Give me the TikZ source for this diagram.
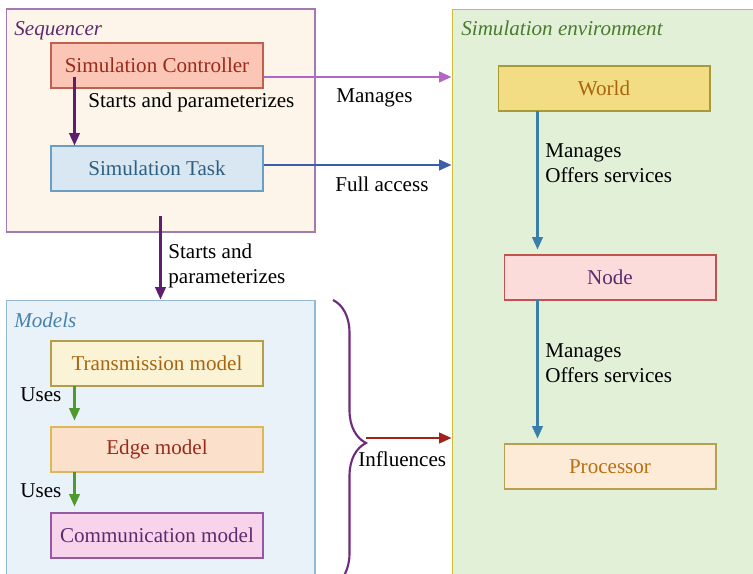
\documentclass[tikz,border=0pt]{standalone}
\usepackage{fontspec}
\setmainfont{Liberation Serif}
\usetikzlibrary{arrows.meta, calc, decorations.pathreplacing}

\definecolor{seqfill}{HTML}{FDF4EA}
\definecolor{seqdraw}{HTML}{A27AB0}
\definecolor{seqtext}{HTML}{5E2A6E}
\definecolor{ctrlfill}{HTML}{FCC6B6}
\definecolor{ctrldraw}{HTML}{C0614F}
\definecolor{ctrltext}{HTML}{9A2A1C}
\definecolor{taskfill}{HTML}{D8E7F1}
\definecolor{taskdraw}{HTML}{6A9EC5}
\definecolor{tasktext}{HTML}{2F5F80}
\definecolor{modfill}{HTML}{E9F1F9}
\definecolor{moddraw}{HTML}{94B7D3}
\definecolor{modtext}{HTML}{4584AE}
\definecolor{transfill}{HTML}{FBF3D6}
\definecolor{transdraw}{HTML}{B49E4E}
\definecolor{transtext}{HTML}{A8650E}
\definecolor{edgefill}{HTML}{FBE0CC}
\definecolor{edgedraw}{HTML}{DDB85A}
\definecolor{commfill}{HTML}{F8D4EC}
\definecolor{commdraw}{HTML}{9459A0}
\definecolor{envfill}{HTML}{E2F0D8}
\definecolor{envdraw}{HTML}{CDBB3A}
\definecolor{envtext}{HTML}{4B7A2E}
\definecolor{worldfill}{HTML}{F2DD84}
\definecolor{worlddraw}{HTML}{A89A38}
\definecolor{nodefill}{HTML}{FBDCDB}
\definecolor{nodedraw}{HTML}{C0534D}
\definecolor{procfill}{HTML}{FDEBD8}
\definecolor{procdraw}{HTML}{B4A050}
\definecolor{proctext}{HTML}{B8700F}
\definecolor{startcol}{HTML}{5E1E6E}
\definecolor{managecol}{HTML}{B466C8}
\definecolor{accesscol}{HTML}{3C5DA8}
\definecolor{usescol}{HTML}{4F9A2C}
\definecolor{servcol}{HTML}{3A7EAB}
\definecolor{inflcol}{HTML}{A0221A}
\definecolor{bracecol}{HTML}{6E2A7E}

\begin{document}
\begin{tikzpicture}[x=0.02cm, y=-0.02cm,
  group/.style={rectangle, line width=0.6pt, inner sep=0pt},
  grouplabel/.style={anchor=north west, font=\fontsize{12}{14}\selectfont\itshape, inner sep=0pt},
  block/.style={rectangle, line width=0.6pt, minimum width=4.24cm, minimum height=0.9cm,
    font=\fontsize{12}{14}\selectfont},
  lbl/.style={anchor=west, font=\fontsize{12}{14}\selectfont, align=left, inner sep=0pt},
  arrow/.style={-{Triangle[length=7pt,width=6pt]}, line width=1.2pt}
]
\clip (0,0) rectangle (753,574);

% Groups
\node[group, draw=seqdraw, fill=seqfill, minimum width=6.18cm, minimum height=4.46cm] at (160.5,120.5) (seq) {};
\node[grouplabel, text=seqtext] at (14,21) (seqlbl) {Sequencer};

\node[group, draw=moddraw, fill=modfill, minimum width=6.18cm, minimum height=6cm] at (160.5,450) (mod) {};
\node[grouplabel, text=modtext] at (14,313) (modlbl) {Models};

\node[group, draw=envdraw, fill=envfill, minimum width=6.6cm, minimum height=12cm] at (617,309) (env) {};
\node[grouplabel, text=envtext] at (461,21) (envlbl) {Simulation environment};

% Sequencer blocks
\node[block, draw=ctrldraw, fill=ctrlfill, text=ctrltext] at (157,65.5) (ctrl) {Simulation Controller};
\node[block, draw=taskdraw, fill=taskfill, text=tasktext] at (157,168.5) (task) {Simulation Task};

% Model blocks
\node[block, draw=transdraw, fill=transfill, text=transtext] at (157,363.5) (trans) {Transmission model};
\node[block, draw=edgedraw, fill=edgefill, text=ctrltext] at (157,449.5) (edge) {Edge model};
\node[block, draw=commdraw, fill=commfill, text=seqtext] at (157,535.5) (comm) {Communication model};

% Environment blocks
\node[block, draw=worlddraw, fill=worldfill, text=transtext] at (604,88.5) (world) {World};
\node[block, draw=nodedraw, fill=nodefill, text=seqtext] at (610,277.5) (nd) {Node};
\node[block, draw=procdraw, fill=procfill, text=proctext] at (610,466.5) (proc) {Processor};

% Arrows
\coordinate (ctrlout) at ($(ctrl.west)+(24,11.5)$);
\draw[arrow, startcol] (ctrlout) -- (ctrlout |- task.north);
\node[lbl] at (88,102) (l1) {Starts and parameterizes};

\draw[arrow, startcol] ($(seq.south)+(0,-17)$) -- (mod.north);
\node[lbl] at (168,266) (l2) {Starts and\\parameterizes};

\draw[arrow, managecol] (ctrl.east |- 0,77) -- (env.west |- 0,77);
\node[lbl] at (336,98) (l3) {Manages};
\draw[arrow, accesscol] (task.east |- 0,165) -- (env.west |- 0,165);
\node[lbl] at (335,184) (l4) {Full access};

\draw[arrow, usescol] ($(trans.west)+(24,22.5)$) -- ($(edge.west)+(24,-29)$);
\node[lbl] at (20,395) (l5) {Uses};
\draw[arrow, usescol] ($(edge.west)+(24,22.5)$) -- ($(comm.west)+(24,-29)$);
\node[lbl] at (20,491) (l6) {Uses};

\draw[arrow, servcol] ($(world.west)+(40,22.5)$) -- ($(nd.west)+(34,-28)$);
\node[lbl] at (545,163) (l7) {Manages\\Offers services};
\draw[arrow, servcol] ($(nd.west)+(34,22.5)$) -- ($(proc.west)+(34,-28)$);
\node[lbl] at (545,363) (l8) {Manages\\Offers services};

% Brace and influence
\draw[bracecol, line width=1.2pt, decorate, decoration={brace, amplitude=0.66cm}] (333,300) -- (333,586);
\coordinate (bracetip) at (366,438);
\draw[arrow, inflcol] (bracetip) -- (env.west |- bracetip);
\node[lbl] at (358,459) (l9) {Influences};

\end{tikzpicture}
\end{document}
